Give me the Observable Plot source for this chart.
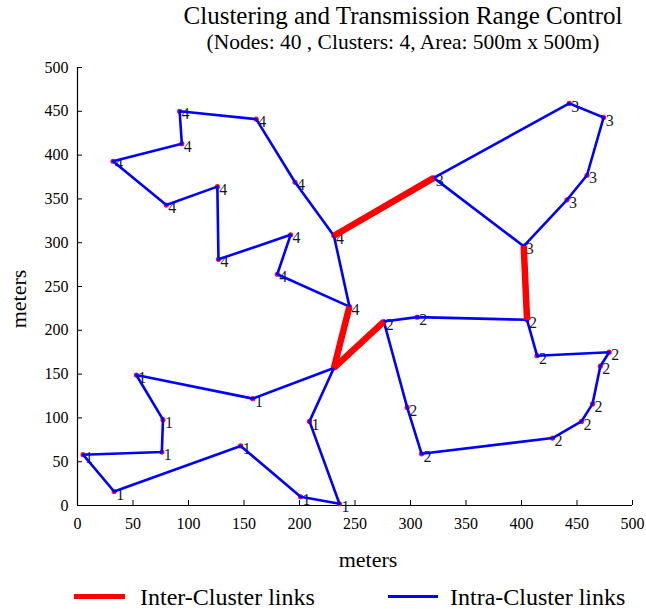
<!DOCTYPE html>
<html><head><meta charset="utf-8">
<script src="https://cdn.jsdelivr.net/npm/d3@7"></script>
<script src="https://cdn.jsdelivr.net/npm/@observablehq/plot@0.6"></script>
<style>
body{margin:0;background:#fff;font-family:"Liberation Serif","Times New Roman",serif;}
#wrap{position:relative;width:646px;height:609px;overflow:hidden;background:#fff;}
.t{position:absolute;white-space:nowrap;color:#000;line-height:0.9;}
#chart{position:absolute;left:0;top:50px;}
.sw{position:absolute;}
</style></head><body>
<div id="wrap">
  <div id="chart"></div>
  <div class="t" id="title" style="left:0;width:806px;text-align:center;top:5px;font-size:25px;">Clustering and Transmission Range Control</div>
  <div class="t" id="subtitle" style="left:0;width:806px;text-align:center;top:32.5px;font-size:21.5px;">(Nodes: 40 , Clusters: 4, Area: 500m x 500m)</div>
  <div class="t" id="ylabel" style="left:19px;top:299px;font-size:22px;transform:translate(-50%,-50%) rotate(-90deg);">meters</div>
  <div class="sw" style="left:74px;top:594px;width:51px;height:5px;background:#ff0000;"></div>
  <div class="t" style="left:140px;top:587px;font-size:24px;">Inter-Cluster links</div>
  <div class="sw" style="left:388px;top:595px;width:50px;height:3px;background:#0000ff;"></div>
  <div class="t" style="left:450px;top:587px;font-size:24px;">Intra-Cluster links</div>
</div>
<script>
// Node positions (meters), listed in tour order per cluster
const cluster1X = [53, 158, 231, 209, 236, 201, 147, 33, 5, 76, 77];
const cluster1Y = [149, 122, 157, 96, 2, 10, 68, 16, 58, 61, 98];
const cluster2X = [276, 306, 405, 414, 479, 471, 464, 454, 428, 310, 297];
const cluster2Y = [210, 215, 212, 171, 175, 159, 116, 96, 77, 59, 112];
const cluster3X = [443, 474, 459, 441, 402, 321];
const cluster3Y = [459, 443, 377, 349, 296, 374];
const cluster4X = [92, 161, 196, 231, 245, 180, 192, 127, 126, 80, 32, 94];
const cluster4Y = [450, 441, 369, 308, 227, 264, 309, 281, 364, 343, 393, 413];
// nodes whose label is not shown (cluster-index)
const hiddenLabels = ["1-2"];
// Inter-cluster links: [cluster, index] pairs
const interFrom = [[4, 3], [3, 4], [4, 4], [1, 2]];
const interTo   = [[3, 5], [2, 2], [1, 2], [2, 0]];
const xTicks = [0, 50, 100, 150, 200, 250, 300, 350, 400, 450, 500];
const yTicks = [0, 50, 100, 150, 200, 250, 300, 350, 400, 450, 500];

const clusters = [
  {id: 1, xs: cluster1X, ys: cluster1Y},
  {id: 2, xs: cluster2X, ys: cluster2Y},
  {id: 3, xs: cluster3X, ys: cluster3Y},
  {id: 4, xs: cluster4X, ys: cluster4Y}
];
const nodes = [];
const loops = [];
for (const c of clusters) {
  c.xs.forEach((x, i) => {
    nodes.push({cluster: c.id, i, x, y: c.ys[i], label: !hiddenLabels.includes(`${c.id}-${i}`)});
    loops.push({cluster: c.id, x, y: c.ys[i]});
  });
  loops.push({cluster: c.id, x: c.xs[0], y: c.ys[0]});
}
const get = ([c, i]) => { const cl = clusters.find(d => d.id === c); return {x: cl.xs[i], y: cl.ys[i]}; };
const links = interFrom.map((f, k) => { const a = get(f), b = get(interTo[k]); return {x1: a.x, y1: a.y, x2: b.x, y2: b.y}; });

const W = 646, H = 530, mt = 17, mb = 75, ml = 77, mr = 14;
const plotH = H - mt - mb, plotW = W - ml - mr;
const tick = 5;

const chart = Plot.plot({
  width: W, height: H,
  marginTop: mt, marginBottom: mb, marginLeft: ml, marginRight: mr,
  style: {fontFamily: '"Liberation Serif","Times New Roman",serif', fontSize: "16px", background: "#fff", color: "#000"},
  x: {domain: [0, 500]},
  y: {domain: [0, 500]},
  marks: [
    Plot.axisX({ticks: xTicks, tickSize: 0, tickPadding: 12, tickFormat: d => String(d), label: null, fontSize: 16}),
    Plot.axisY({ticks: yTicks, tickSize: 0, tickPadding: 9, tickFormat: d => String(d), label: null, fontSize: 16}),
    Plot.ruleX(xTicks, {x: d => d, insetTop: plotH - tick, stroke: "#000", strokeWidth: 1}),
    Plot.ruleY(yTicks, {y: d => d, insetRight: plotW - tick, stroke: "#000", strokeWidth: 1}),
    Plot.ruleX([0], {stroke: "#000", strokeWidth: 1.2}),
    Plot.ruleY([0], {stroke: "#000", strokeWidth: 1.2}),
    Plot.text(nodes.filter(d => d.label), {x: "x", y: "y", text: d => String(d.cluster), textAnchor: "start", dx: 2, dy: 3, fontSize: 16, fill: "#1a1a1a"}),
    Plot.dot(nodes, {x: "x", y: "y", r: 2.6, fill: "#f0103a", stroke: "none"}),
    Plot.line(loops, {x: "x", y: "y", z: "cluster", stroke: "#0000ff", strokeWidth: 2.6, curve: "linear"}),
    Plot.link(links, {x1: "x1", y1: "y1", x2: "x2", y2: "y2", stroke: "#ff0000", strokeWidth: 6.5}),
    Plot.text(["meters"], {frameAnchor: "bottom", text: d => d, dy: 61, dx: 13, fontSize: 22})
  ]
});
document.getElementById("chart").appendChild(chart);
</script>
</body></html>
